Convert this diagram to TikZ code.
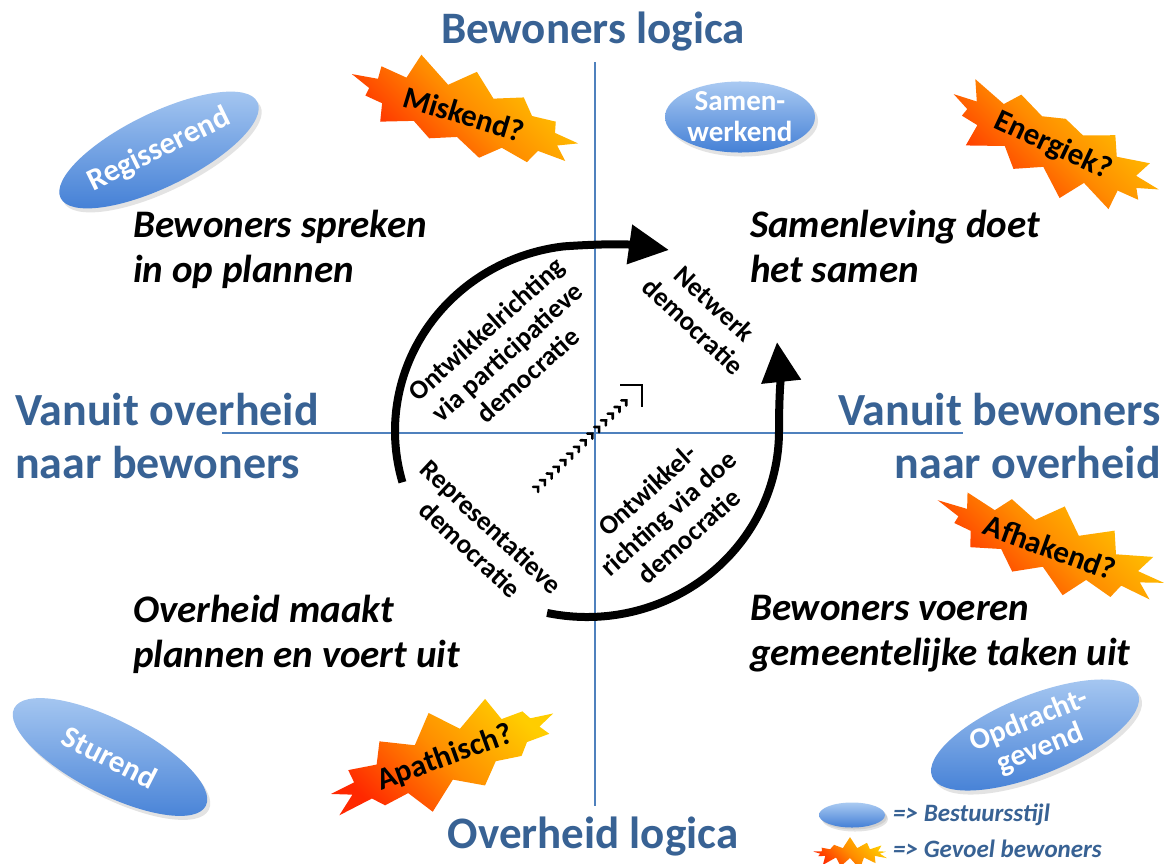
\documentclass[tikz,border=0pt]{standalone}
\usepackage{fontspec}
\setmainfont{Carlito}
\usetikzlibrary{shapes.geometric,shapes.symbols,arrows.meta,shadows,decorations.markings}
\definecolor{titleblue}{RGB}{56,98,148}
\definecolor{axisblue}{RGB}{79,129,189}
\definecolor{elltop}{RGB}{170,202,242}
\definecolor{ellbot}{RGB}{68,128,214}
\definecolor{staryel}{RGB}{255,205,0}
\definecolor{starmid}{RGB}{255,140,0}
\definecolor{starred}{RGB}{255,40,0}
\newcommand{\fsz}[2]{\fontsize{#1}{#2}\selectfont}
\begin{document}
\begin{tikzpicture}[x=1pt,y=1pt,
  title/.style={font=\fsz{45}{53}\bfseries, text=titleblue, inner sep=0pt},
  statement/.style={font=\fsz{39}{45}\bfseries\itshape, align=left, inner sep=0pt, anchor=north west},
  circtext/.style={font=\fsz{27}{31}\bfseries, align=center, inner sep=0pt},
  axisline/.style={draw=axisblue, line width=2pt},
  bigarrow/.style={line width=8pt, -{Triangle[length=40pt,width=38pt]}},
  stijl/.style={ellipse, draw=none, top color=elltop, bottom color=ellbot, text=white,
    font=\fsz{31}{32}\bfseries, align=center, inner sep=0pt,
    drop shadow={opacity=0.22, shadow xshift=3pt, shadow yshift=-4pt}},
  gevoel/.style={starburst, starburst points=13, starburst point height=27pt, draw=none,
    top color=staryel, bottom color=starred, middle color=starmid, shading angle=-45,
    font=\fsz{31}{32}\bfseries, inner sep=0pt},
  legendtext/.style={font=\fsz{25}{28}\bfseries\itshape, text=titleblue, inner sep=0pt, anchor=west},
]
\useasboundingbox (0,0) rectangle (1167,-863);
\fill[white] (0,0) rectangle (1167,-863);

% axes
\coordinate (vtop) at (595,-62);
\coordinate (vbot) at (595,-806);
\coordinate (hl) at (222,-433);
\coordinate (hr) at (963,-433);
\draw[axisline] (vtop) -- (vbot);
\draw[axisline] (hl) -- (hr);

% titles
\node[title, anchor=north] (tTop) at (593,-12) {Bewoners logica};
\node[title, anchor=north] (tBot) at (593,-817) {Overheid logica};
\node[title, anchor=north west, align=left, font=\fsz{46}{53}\bfseries] (tLeft) at (15,-393) {Vanuit overheid\\naar bewoners};
\node[title, anchor=north east, align=right, font=\fsz{46}{53}\bfseries] (tRight) at (1161,-393) {Vanuit bewoners\\naar overheid};

% statements
\node[statement] (s1) at (133,-210) {Bewoners spreken\\in op plannen};
\node[statement] (s2) at (750,-210) {Samenleving doet\\het samen};
\node[statement] (s3) at (133,-595) {Overheid maakt\\plannen en voert uit};
\node[statement] (s4) at (750,-595) {Bewoners voeren\\gemeentelijke taken uit};

% circular arrows
\coordinate (C) at (587,-431);
\coordinate (a1end) at (669,-250);
\coordinate (a2end) at (777,-342);
\draw[bigarrow] ([shift={(196:192 and 186)}]C) arc[start angle=196, end angle=97, x radius=192, y radius=186]
  to[out=4, in=172] (a1end);
\draw[bigarrow] ([shift={(258:192 and 186)}]C) arc[start angle=258, end angle=360, x radius=192, y radius=186]
  to[out=90, in=-84] (a2end);

% dotted diagonal arrow
\coordinate (dstart) at (537,-488);
\coordinate (dend) at (642,-385);
\path[decorate, decoration={markings,
   mark=between positions 0 and 0.9 step 9.5pt with {\draw[line width=2.6pt, line cap=round] (-2,3.6) -- (1.6,0) -- (-2,-3.6);}}]
  (dstart) -- (dend);
\draw[line width=1.8pt, line join=miter] ([shift={(-22,0)}]dend) -- (dend) -- ([shift={(0,-22)}]dend);

% circle texts
\node[circtext, rotate=42] (cA) at (507,-352) {Ontwikkelrichting\\via participatieve\\democratie};
\node[circtext, rotate=-43] (cB) at (704,-315) {Netwerk\\democratie};
\node[circtext, rotate=-43] (cC) at (481,-538) {Representatieve\\democratie};
\node[circtext, rotate=42] (cD) at (668,-513) {Ontwikkel-\\richting via doe\\democratie};

% bestuursstijl ellipses
\node[stijl, rotate=26, minimum width=215pt, minimum height=74pt] (regis) at (159,-150) {Regisserend};
\node[stijl, minimum width=150pt, minimum height=64pt, font=\fsz{29}{31}\bfseries] (samen) at (740,-117) {Samen-\\werkend};
\node[stijl, rotate=-27, minimum width=215pt, minimum height=74pt] (sturend) at (110,-757) {Sturend};
\node[stijl, rotate=22, minimum width=222pt, minimum height=76pt, font=\fsz{30}{30}\bfseries] (opdracht) at (1035,-735) {Opdracht-\\gevend};

% gevoel starbursts
\node[gevoel, rotate=-17, minimum width=252pt, minimum height=102pt, random starburst=11] (miskend) at (464,-114) {Miskend?};
\node[gevoel, rotate=-25, minimum width=242pt, minimum height=100pt, random starburst=23] (energiek) at (1053,-146) {Energiek?};
\node[gevoel, rotate=-20, minimum width=245pt, minimum height=96pt, random starburst=37] (afhakend) at (1050,-547) {Afhakend?};
\node[gevoel, rotate=20, minimum width=252pt, minimum height=100pt, random starburst=53] (apathisch) at (445,-758) {Apathisch?};

% legend
\node[stijl, minimum width=66pt, minimum height=25pt, drop shadow={opacity=0.2, shadow xshift=2pt, shadow yshift=-2pt}] (legE) at (852,-815) {};
\node[legendtext] (legEt) at (893,-815) {=> Bestuursstijl};
\node[gevoel, minimum width=84pt, minimum height=34pt, starburst point height=12pt, random starburst=7] (legS) at (850,-853) {};
\node[legendtext] (legSt) at (893,-849) {=> Gevoel bewoners};
\end{tikzpicture}
\end{document}
